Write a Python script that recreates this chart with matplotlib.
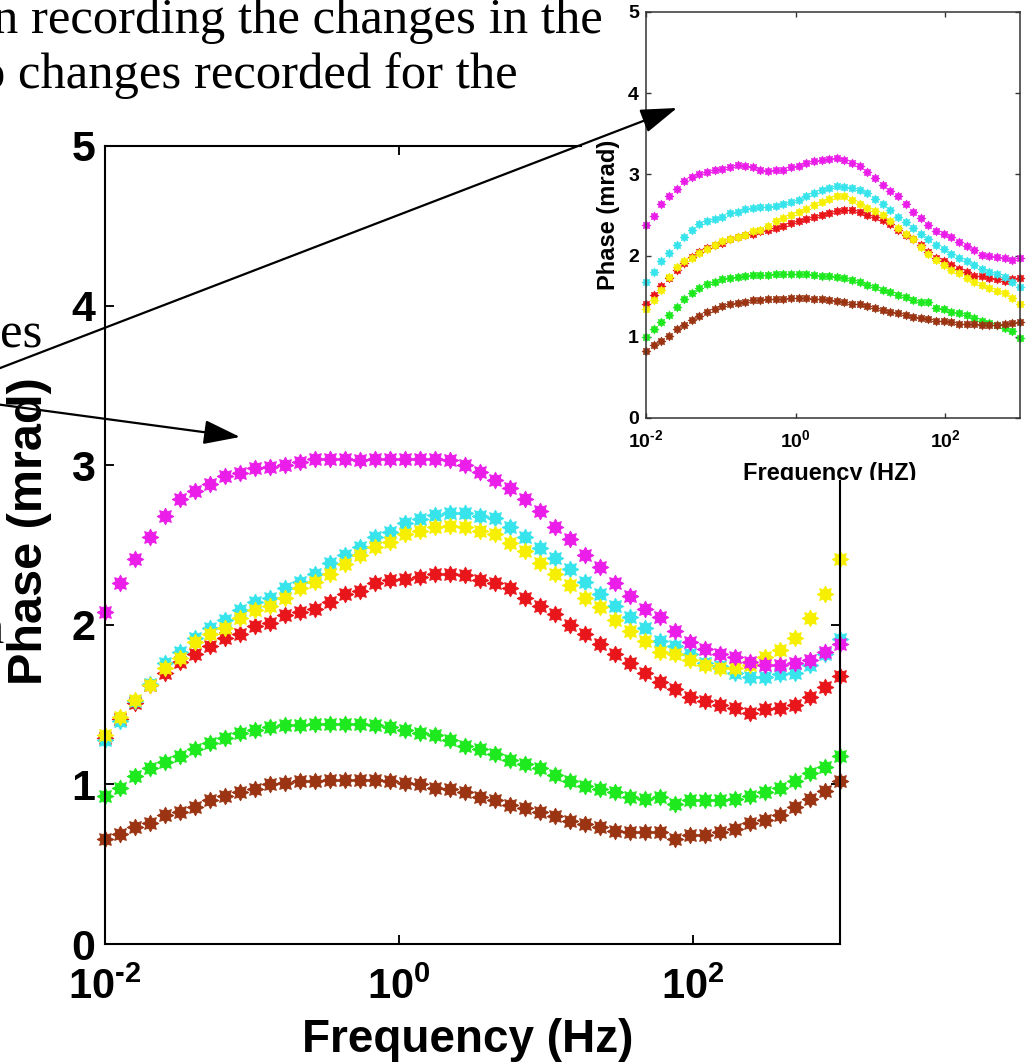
import numpy as np
import matplotlib
matplotlib.use('Agg')
import matplotlib.pyplot as plt
from matplotlib.path import Path
from matplotlib.patches import Rectangle, FancyArrowPatch
from matplotlib.ticker import NullLocator
from matplotlib.transforms import Bbox

plt.rcParams['font.family'] = ['Liberation Sans', 'DejaVu Sans']
plt.rcParams['mathtext.fontset'] = 'custom'
plt.rcParams['mathtext.rm'] = 'Liberation Sans:bold'
plt.rcParams['mathtext.bf'] = 'Liberation Sans:bold'
plt.rcParams['mathtext.it'] = 'Liberation Sans:bold'
plt.rcParams['mathtext.default'] = 'bf'

# %% data (phase in mrad, 50 log-spaced frequencies)
freq = np.logspace(-2, 3, 50)

main_magenta = [2.08, 2.26, 2.41, 2.55, 2.68, 2.79, 2.84, 2.88, 2.93, 2.95,
                2.98, 2.99, 3.00, 3.02, 3.04, 3.04, 3.04, 3.03, 3.04, 3.04,
                3.04, 3.04, 3.04, 3.03, 3.00, 2.96, 2.91, 2.86, 2.79, 2.71,
                2.61, 2.54, 2.44, 2.36, 2.26, 2.18, 2.10, 2.05, 1.96, 1.89,
                1.85, 1.82, 1.80, 1.77, 1.75, 1.75, 1.76, 1.78, 1.83, 1.88]
main_cyan = [1.28, 1.40, 1.52, 1.63, 1.76, 1.83, 1.92, 1.98, 2.03, 2.09,
             2.14, 2.17, 2.23, 2.27, 2.32, 2.39, 2.44, 2.49, 2.55, 2.58,
             2.64, 2.66, 2.69, 2.70, 2.70, 2.68, 2.67, 2.61, 2.55, 2.48,
             2.42, 2.35, 2.27, 2.19, 2.12, 2.05, 1.98, 1.90, 1.87, 1.82,
             1.76, 1.74, 1.70, 1.67, 1.67, 1.69, 1.70, 1.75, 1.82, 1.91]
main_yellow = [1.31, 1.42, 1.53, 1.62, 1.73, 1.79, 1.89, 1.94, 1.98, 2.04,
               2.09, 2.12, 2.17, 2.23, 2.27, 2.32, 2.38, 2.44, 2.49, 2.52,
               2.57, 2.59, 2.61, 2.62, 2.61, 2.59, 2.57, 2.51, 2.46, 2.39,
               2.32, 2.25, 2.17, 2.11, 2.03, 1.96, 1.90, 1.83, 1.82, 1.78,
               1.75, 1.73, 1.73, 1.75, 1.80, 1.84, 1.92, 2.04, 2.19, 2.41]
main_red = [1.29, 1.41, 1.51, 1.62, 1.70, 1.77, 1.82, 1.87, 1.92, 1.94,
            1.99, 2.01, 2.06, 2.08, 2.10, 2.14, 2.19, 2.21, 2.26, 2.28,
            2.29, 2.30, 2.32, 2.32, 2.31, 2.28, 2.26, 2.23, 2.17, 2.12,
            2.07, 2.00, 1.94, 1.88, 1.82, 1.76, 1.70, 1.64, 1.60, 1.55,
            1.52, 1.50, 1.48, 1.45, 1.47, 1.48, 1.50, 1.55, 1.61, 1.68]
main_green = [0.93, 0.98, 1.05, 1.10, 1.14, 1.18, 1.22, 1.26, 1.29, 1.32,
              1.34, 1.36, 1.37, 1.37, 1.38, 1.38, 1.38, 1.38, 1.37, 1.36,
              1.34, 1.32, 1.31, 1.28, 1.24, 1.22, 1.19, 1.15, 1.13, 1.10,
              1.06, 1.02, 0.99, 0.97, 0.95, 0.92, 0.91, 0.92, 0.88, 0.90,
              0.90, 0.90, 0.91, 0.93, 0.95, 0.98, 1.02, 1.07, 1.11, 1.18]
main_brown = [0.66, 0.69, 0.73, 0.76, 0.81, 0.83, 0.86, 0.90, 0.93, 0.95,
              0.97, 1.00, 1.01, 1.02, 1.02, 1.03, 1.03, 1.03, 1.03, 1.02,
              1.01, 1.00, 0.98, 0.97, 0.95, 0.92, 0.90, 0.87, 0.85, 0.83,
              0.80, 0.77, 0.75, 0.73, 0.71, 0.70, 0.70, 0.70, 0.66, 0.68,
              0.68, 0.70, 0.72, 0.76, 0.78, 0.81, 0.86, 0.91, 0.96, 1.02]

inset_magenta = [2.38, 2.49, 2.63, 2.73, 2.82, 2.92, 2.97, 3.01, 3.03, 3.06,
                 3.07, 3.09, 3.11, 3.10, 3.09, 3.06, 3.04, 3.05, 3.06, 3.09,
                 3.10, 3.14, 3.16, 3.18, 3.19, 3.20, 3.18, 3.14, 3.10, 3.03,
                 2.96, 2.87, 2.80, 2.73, 2.64, 2.54, 2.46, 2.38, 2.30, 2.27,
                 2.23, 2.17, 2.12, 2.07, 2.01, 2.00, 1.98, 1.97, 1.95, 1.97]
inset_cyan = [1.67, 1.80, 1.93, 2.03, 2.13, 2.23, 2.32, 2.39, 2.42, 2.45,
              2.48, 2.52, 2.54, 2.57, 2.59, 2.60, 2.60, 2.61, 2.64, 2.66,
              2.69, 2.73, 2.77, 2.81, 2.83, 2.86, 2.85, 2.83, 2.81, 2.77,
              2.70, 2.64, 2.56, 2.48, 2.41, 2.34, 2.27, 2.20, 2.13, 2.08,
              2.02, 1.97, 1.93, 1.89, 1.84, 1.80, 1.77, 1.74, 1.68, 1.61]
inset_yellow = [1.34, 1.45, 1.58, 1.74, 1.86, 1.93, 1.97, 2.03, 2.08, 2.13,
                2.18, 2.20, 2.23, 2.25, 2.30, 2.32, 2.36, 2.42, 2.46, 2.50,
                2.54, 2.58, 2.62, 2.66, 2.70, 2.73, 2.73, 2.68, 2.64, 2.59,
                2.55, 2.50, 2.42, 2.34, 2.27, 2.21, 2.11, 2.02, 1.95, 1.89,
                1.82, 1.78, 1.72, 1.68, 1.64, 1.60, 1.57, 1.54, 1.48, 1.41]
inset_red = [1.41, 1.52, 1.62, 1.72, 1.82, 1.91, 1.98, 2.04, 2.09, 2.13,
             2.16, 2.20, 2.23, 2.25, 2.27, 2.30, 2.32, 2.34, 2.36, 2.40,
             2.42, 2.45, 2.48, 2.50, 2.53, 2.55, 2.56, 2.56, 2.54, 2.50,
             2.47, 2.44, 2.39, 2.32, 2.25, 2.20, 2.13, 2.05, 1.97, 1.93,
             1.89, 1.84, 1.80, 1.75, 1.75, 1.73, 1.71, 1.69, 1.71, 1.72]
inset_green = [1.00, 1.09, 1.18, 1.27, 1.37, 1.46, 1.54, 1.60, 1.65, 1.68,
               1.71, 1.73, 1.74, 1.75, 1.76, 1.76, 1.76, 1.77, 1.77, 1.77,
               1.77, 1.77, 1.76, 1.75, 1.75, 1.74, 1.72, 1.70, 1.67, 1.64,
               1.61, 1.58, 1.55, 1.52, 1.49, 1.45, 1.43, 1.43, 1.35, 1.34,
               1.31, 1.29, 1.27, 1.23, 1.19, 1.17, 1.15, 1.11, 1.07, 0.98]
inset_brown = [0.82, 0.90, 0.95, 1.01, 1.09, 1.15, 1.21, 1.26, 1.30, 1.34,
               1.38, 1.41, 1.42, 1.43, 1.45, 1.45, 1.46, 1.47, 1.47, 1.48,
               1.48, 1.48, 1.47, 1.46, 1.45, 1.44, 1.43, 1.41, 1.41, 1.38,
               1.35, 1.33, 1.31, 1.29, 1.27, 1.25, 1.23, 1.22, 1.20, 1.19,
               1.18, 1.16, 1.16, 1.16, 1.15, 1.15, 1.15, 1.16, 1.17, 1.18]

ytick_values = [0, 1, 2, 3, 4, 5]
ytick_labels = ['0', '1', '2', '3', '4', '5']
xtick_values = [1e-2, 1e0, 1e2]
xtick_labels = [r'$10^{\text{-}2}$', r'$10^{0}$', r'$10^{2}$']

# %% styling
colors = {'red': '#e8161a', 'cyan': '#38e4ec', 'yellow': '#f6f000',
          'magenta': '#ea1ee8', 'green': '#1ee81e', 'brown': '#9a3412'}
main_series = [('red', main_red), ('cyan', main_cyan), ('yellow', main_yellow),
               ('magenta', main_magenta), ('green', main_green),
               ('brown', main_brown)]
inset_series = [('red', inset_red), ('cyan', inset_cyan),
                ('yellow', inset_yellow), ('magenta', inset_magenta),
                ('green', inset_green), ('brown', inset_brown)]
star = Path.unit_regular_star(8, 0.62)

W, H = 1026, 1062
fig = plt.figure(figsize=(W / 100, H / 100), dpi=100)


def fx(px):
    return px / W


def fy(py):
    return 1 - py / H


def setup_axes(ax, lab_x, lab_y, lw, tlen, pad_x, pad_y, spine_col):
    ax.set_xscale('log')
    ax.set_xlim(1e-2, 1e3)
    ax.set_ylim(0, 5)
    ax.set_xticks(xtick_values)
    ax.set_xticklabels(xtick_labels)
    ax.set_yticks(ytick_values)
    ax.set_yticklabels(ytick_labels, fontweight='bold')
    ax.xaxis.set_minor_locator(NullLocator())
    ax.tick_params(direction='in', top=True, right=True, length=tlen,
                   width=lw * 0.9, color=spine_col)
    ax.tick_params(axis='x', labelsize=lab_x, pad=pad_x)
    ax.tick_params(axis='y', labelsize=lab_y, pad=pad_y)
    for s in ax.spines.values():
        s.set_linewidth(lw)
        s.set_color(spine_col)


# main axes
ax = fig.add_axes([fx(105), fy(944), fx(840) - fx(105), fy(146) - fy(944)])
ax.set_zorder(0)
for name, vals in main_series:
    ax.plot(freq, vals, linestyle='none', marker=star, ms=12,
            color=colors[name], mec=colors[name], mew=0.6, clip_on=False)
setup_axes(ax, 30, 31, 1.5, 6.5, 17, 7, 'black')

fig.text(fx(468), fy(1052), 'Frequency (Hz)', ha='center', va='baseline',
         fontsize=33, fontweight='bold')
fig.text(fx(30), fy(531), 'Phase (mrad)', rotation=90, ha='center',
         va='center', fontsize=35, fontweight='bold')

# white patch under the inset figure
fig.add_artist(Rectangle((fx(582), fy(480)), fx(1026) - fx(582), 480 / H,
                         transform=fig.transFigure, facecolor='white',
                         edgecolor='none', zorder=1))

# inset axes
axi = fig.add_axes([fx(646), fy(418), fx(1020) - fx(646), fy(12) - fy(418)])
axi.set_zorder(2)
for name, vals in inset_series:
    axi.plot(freq, vals, linestyle='none', marker=star, ms=6.5,
             color=colors[name], mec=colors[name], mew=0.4, clip_on=False)
setup_axes(axi, 14, 14, 1.1, 3.5, 8, 5, '#333333')

fig.text(fx(608), fy(215), 'Phase (mrad)', rotation=90, ha='center',
         va='center', fontsize=17, fontweight='bold', zorder=3)
xl = fig.text(fx(830), fy(480), 'Frequency (HZ)', ha='center', va='baseline',
              fontsize=17, fontweight='bold', zorder=3)
xl.set_clip_box(Bbox([[0, H - 480], [W, H]]))
xl.set_clip_on(True)

# surrounding document text
serif = dict(family=['Liberation Serif', 'DejaVu Serif'], fontsize=36.5,
             va='baseline', ha='left', zorder=4)
fig.text(fx(-7), fy(33), 'n recording the changes in the', **serif)
fig.text(fx(-20), fy(88), 'o changes recorded for the', **serif)
fig.text(fx(0), fy(348), 'es', **serif)
fig.text(fx(-21), fy(643), 'n', **serif)

# arrows
arrow_style = '-|>,head_length=1.5,head_width=0.5'
for start, end in [((-5, 370), (677, 108)), ((-5, 404), (240, 437))]:
    fig.add_artist(FancyArrowPatch((fx(start[0]), fy(start[1])),
                                   (fx(end[0]), fy(end[1])),
                                   transform=fig.transFigure,
                                   arrowstyle=arrow_style, mutation_scale=15,
                                   lw=1.6, color='black', shrinkA=0,
                                   shrinkB=0, zorder=5))

plt.savefig('out.png', dpi=100)
